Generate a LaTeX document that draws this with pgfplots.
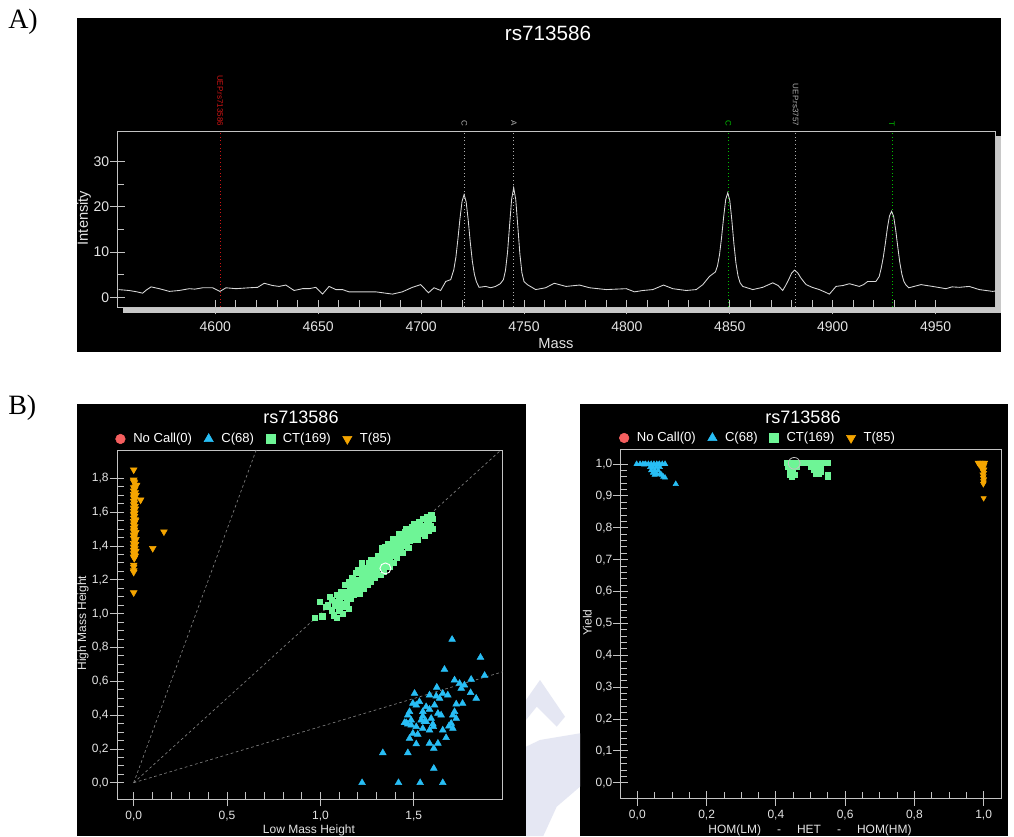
\documentclass[border=0pt]{standalone}
\usepackage{pgfplots}
\pgfplotsset{compat=1.18}
\usepackage{fontspec}
\setmainfont{Liberation Sans}
\newfontfamily\seriffont{Liberation Serif}
\definecolor{cblue}{RGB}{40,190,245}
\definecolor{cgreen}{RGB}{110,245,150}
\definecolor{corange}{RGB}{245,165,0}
\definecolor{cred}{RGB}{245,95,95}
\definecolor{axgray}{RGB}{195,195,195}
\definecolor{lbl}{RGB}{228,228,228}
\definecolor{shadowgray}{RGB}{200,200,200}
\definecolor{wm}{RGB}{229,231,243}
\definecolor{specline}{RGB}{215,215,215}
\definecolor{mkred}{RGB}{210,20,20}
\definecolor{mkgray}{RGB}{175,175,175}
\definecolor{mkgreen}{RGB}{0,190,0}

\pgfplotsset{
  darkaxis/.style={
    scale only axis,
    tick pos=left,
    axis line style={axgray, line width=0.6pt},
    tick style={axgray, line width=0.6pt},
    tick align=center,
    major tick length=11pt,
    minor tick length=5pt,
    minor x tick style={yshift=2.5pt},
    minor y tick style={xshift=2.5pt},
    yticklabel style={xshift=2.7pt},
    /pgf/number format/assume math mode=true,
  },
  bstyle/.style={
    darkaxis,
    ticklabel style={font=\fontsize{9}{11}\selectfont, lbl},
    /pgf/number format/.cd, use comma, fixed, fixed zerofill, precision=1, /pgfplots/.cd,
    legend style={at={(0,1)}, anchor=west, xshift=-1pt, yshift=8.25pt,
      draw=none, fill=none, text=white, font=\fontsize{9.8}{12}\selectfont,
      inner sep=0pt, outer sep=0pt,
      /tikz/every odd column/.append style={column sep=4pt},
      /tikz/every even column/.append style={column sep=7pt}},
    legend columns=4,
    legend image code/.code={\draw[mark repeat=1,##1] plot coordinates {(0pt,0pt)};},
  },
}

\begin{document}
\begin{tikzpicture}[x=0.75pt,y=0.75pt]
\useasboundingbox (0,0) rectangle (1014,836);
\clip (0,0) rectangle (1014,836);
\fill[white] (0,0) rectangle (1014,836);
% backgrounds
\fill[black] (76.5,818) rectangle (1000.5,484);
\fill[black] (76.7,431.7) rectangle (526,0);
\fill[black] (580,431.7) rectangle (1008,0);
% watermark fragments in the gap
\fill[wm] (526,136) -- (540,156) -- (565,119.3) -- (556.7,109.3) -- (536.7,129.3) -- (526,116) -- cycle;
\fill[wm] (526,89.3) -- (540,96) -- (580,102.7) -- (580,49.3) -- (556.7,29.3) -- (543.3,0) -- (526,0) -- cycle;
% panel A shadow
\fill[shadowgray] (123,529) rectangle (1000.7,523);
\fill[shadowgray] (996,700) rectangle (1000.7,523);

% panel labels
\node[anchor=base west, inner sep=0pt, font=\seriffont\fontsize{21}{24}\selectfont] at (8,807.7) {A)};
\node[anchor=base west, inner sep=0pt, font=\seriffont\fontsize{21}{24}\selectfont] at (8,421) {B)};

% ================= Panel A =================
\begin{axis}[darkaxis,
  at={(88.28pt,396.75pt)}, anchor=south west,
  width=658.5pt, height=131.78pt,
  xmin=4552.6, xmax=4979.2, ymin=-2.15, ymax=36.7,
  xtick={4600,4650,4700,4750,4800,4850,4900,4950}, minor x tick num=4,
  ytick={0,10,20,30}, minor y tick num=1,
  ticklabel style={font=\fontsize{10.5}{13}\selectfont, lbl},
  xticklabel style={yshift=-2pt},
  /pgf/number format/set thousands separator={},
  clip=false,
]
\addplot[mkred, dotted, line width=0.7pt] coordinates {(4602.4,-2.15)(4602.4,36.7)};
\addplot[mkgray, dotted, line width=0.7pt] coordinates {(4721,-2.15)(4721,36.7)};
\addplot[mkgray, dotted, line width=0.7pt] coordinates {(4745.1,-2.15)(4745.1,36.7)};
\addplot[mkgreen, dotted, line width=0.7pt] coordinates {(4849.3,-2.15)(4849.3,36.7)};
\addplot[mkgray, dotted, line width=0.7pt] coordinates {(4882,-2.15)(4882,36.7)};
\addplot[mkgreen, dotted, line width=0.7pt] coordinates {(4928.8,-2.15)(4928.8,36.7)};
\addplot[specline, line width=0.65pt] coordinates {
(4553,1.7)(4558,1.5)(4562,1.2)(4564.7,0.9)(4566.5,1.6)(4568.8,2.3)(4572.8,1.9)(4577.7,1.3)
(4582.5,1.5)(4587.4,1.9)(4590,1.8)(4593.9,2.1)(4598.7,2.1)(4602.3,1.3)(4605.2,2.1)(4610,1.9)
(4616.5,2.1)(4620.6,2.2)(4623.8,3.1)(4627.8,2.6)(4631,2.4)(4634.3,2.7)(4638.3,1.5)(4642.4,1.9)
(4645.6,1.9)(4648.9,2.2)(4652.1,0.7)(4655.3,2.4)(4658.6,1.7)(4661.8,1.7)(4665,1.2)(4671.5,1.2)
(4678,1.2)(4686.1,0.7)(4690.9,1.2)(4695.8,2.2)(4699.8,2.8)(4703.6,1.0)(4706.3,2.1)(4709.5,1.5)
(4712,3.5)(4714.4,3.9)(4715.9,6.1)(4716.9,8.8)(4717.9,12.9)(4718.9,17.4)(4719.9,21.2)(4720.9,22.7)
(4721.9,21.1)(4722.9,17.1)(4723.9,12.2)(4724.9,8.0)(4725.9,5.1)(4726.9,3.4)(4728.2,2.2)(4731.4,2.4)
(4733.8,2.1)(4736.2,2.4)(4738.5,3.0)(4740,3.9)(4741,5.9)(4742,9.9)(4743,15.9)(4744,21.7)
(4745,24.2)(4746,21.6)(4747,15.7)(4748,9.6)(4749,5.4)(4750,3.5)(4751.6,2.8)(4755.7,1.7)
(4760.5,2.1)(4764.7,3.1)(4770.4,2.4)(4777,2.7)(4781.9,2.1)(4790,1.7)(4799.7,1.9)(4803.7,1.2)
(4807.8,1.5)(4812.6,1.7)(4817.8,2.7)(4822.3,1.9)(4828.8,1.5)(4833.7,1.7)(4836.9,2.8)(4840.1,4.6)
(4843,5.6)(4844,6.9)(4845,9.4)(4846,13.2)(4847,17.7)(4848,21.6)(4849,23.1)(4850,21.4)
(4851,17.0)(4852,11.8)(4853,7.5)(4854,4.7)(4855,3.2)(4856.3,2.4)(4861.2,1.7)(4866,2.2)
(4870.9,3.2)(4873.5,2.6)(4875.7,1.5)(4877,2.5)(4878.5,3.8)(4880,5.3)(4881.4,6.0)(4883,5.4)
(4884.5,4.3)(4886,3.4)(4887.1,2.8)(4890,2.2)(4893.5,1.7)(4896,1.2)(4898.4,0.7)(4901.6,2.4)
(4905,2.6)(4908.1,3.0)(4912.9,2.4)(4915,2.8)(4917,3.5)(4921,3.5)(4922.6,4.6)(4923.6,6.5)
(4924.6,8.9)(4925.6,12.0)(4926.6,15.4)(4927.6,18.0)(4928.6,19.0)(4929.6,17.9)(4930.6,14.9)(4931.6,11.2)
(4932.6,7.7)(4933.6,5.1)(4934.6,3.5)(4935.6,2.7)(4937,2.1)(4942.9,2.8)(4948.5,2.4)(4955,1.9)
(4958,2.3)(4961.5,2.2)(4966.3,2.4)(4971.2,1.7)(4977.7,1.3)(4979.2,1.4)
};
\node[rotate=-90, anchor=east, inner sep=0pt, text=mkred, font=\fontsize{6}{7}\selectfont] at (axis cs:4602.4,37.8) {UEP.rs713586};
\node[rotate=-90, anchor=east, inner sep=0pt, text=mkgray, font=\fontsize{6}{7}\selectfont] at (axis cs:4721,37.8) {C};
\node[rotate=-90, anchor=east, inner sep=0pt, text=mkgray, font=\fontsize{6}{7}\selectfont] at (axis cs:4745.1,37.8) {A};
\node[rotate=-90, anchor=east, inner sep=0pt, text=mkgreen, font=\fontsize{6}{7}\selectfont] at (axis cs:4849.3,37.8) {C};
\node[rotate=-90, anchor=east, inner sep=0pt, text=mkgray, font=\fontsize{6}{7}\selectfont] at (axis cs:4882,37.8) {UEP.rs3757};
\node[rotate=-90, anchor=east, inner sep=0pt, text=mkgreen, font=\fontsize{6}{7}\selectfont] at (axis cs:4928.8,37.8) {T};
\end{axis}

% ================= Panel B left =================
\begin{axis}[bstyle,
  at={(87.75pt,27.75pt)}, anchor=south west,
  width=289.28pt, height=261.75pt,
  xmin=-0.0894, xmax=1.976, ymin=-0.096, ymax=1.967,
  xtick={0,0.5,1,1.5}, minor x tick num=4,
  ytick={0,0.2,0.4,0.6,0.8,1,1.2,1.4,1.6,1.8}, minor y tick num=3,
]
\addlegendimage{only marks, mark=*, color=cred, mark size=3.6pt}
\addlegendentry{No Call(0)}
\addlegendimage{only marks, mark=triangle*, color=cblue, mark size=4pt}
\addlegendentry{C(68)}
\addlegendimage{only marks, mark=square*, color=cgreen, mark size=3.3pt}
\addlegendentry{CT(169)}
\addlegendimage{only marks, mark=triangle*, color=corange, mark size=4pt, mark options={rotate=180}}
\addlegendentry{T(85)}
\addplot[forget plot, gray, dash pattern=on 2pt off 2pt, line width=0.5pt] coordinates {(0,0)(0.656,1.967)};
\addplot[forget plot, gray, dash pattern=on 2pt off 2pt, line width=0.5pt] coordinates {(0,0)(1.967,1.967)};
\addplot[forget plot, gray, dash pattern=on 2pt off 2pt, line width=0.5pt] coordinates {(0,0)(1.976,0.656)};
% C
\addplot[forget plot, only marks, mark=triangle*, color=cblue, mark size=2.9pt] coordinates {
(1.705,0.847)(1.857,0.741)(1.879,0.634)(1.664,0.670)(1.718,0.607)(1.807,0.611)(1.771,0.577)(1.754,0.558)
(1.623,0.564)(1.584,0.518)(1.655,0.528)(1.504,0.528)(1.804,0.532)(1.834,0.499)(1.727,0.465)(1.761,0.469)
(1.638,0.499)(1.611,0.459)(1.495,0.469)(1.513,0.459)(1.477,0.420)(1.584,0.434)(1.629,0.410)(1.548,0.394)
(1.709,0.400)(1.718,0.420)(1.468,0.400)(1.486,0.370)(1.459,0.355)(1.539,0.370)(1.566,0.361)(1.593,0.380)
(1.646,0.400)(1.700,0.351)(1.688,0.335)(1.655,0.311)(1.584,0.311)(1.548,0.321)(1.513,0.331)(1.486,0.341)
(1.450,0.355)(1.468,0.347)(1.521,0.286)(1.495,0.292)(1.477,0.262)(1.673,0.266)(1.513,0.229)(1.584,0.233)
(1.629,0.233)(1.607,0.203)(1.468,0.177)(1.334,0.177)(1.607,0.085)(1.223,0.0)(1.418,0.0)(1.534,0.0)
(1.655,0.0)(1.557,0.361)(1.602,0.347)(1.620,0.512)(1.682,0.518)(1.566,0.449)(1.530,0.479)(1.548,0.420)
(1.605,0.331)(1.727,0.380)(1.709,0.321)(1.745,0.587)
};
% CT
\addplot[forget plot, only marks, mark=square*, color=cgreen, mark size=2pt] coordinates {
(0.968,0.977)(1.009,0.985)(0.995,1.068)(1.07,0.99)(1.088,0.977)(1.04,1.05)(1.06,1.08)(1.08,1.05)
(1.10,1.09)(1.09,1.11)(1.05,1.10)(1.12,1.04)(1.13,1.10)(1.11,1.13)(1.14,1.07)(1.15,1.12)
(1.16,1.15)(1.13,1.17)(1.17,1.13)(1.18,1.16)(1.15,1.19)(1.19,1.20)(1.20,1.17)(1.17,1.21)
(1.21,1.19)(1.22,1.22)(1.19,1.24)(1.23,1.18)(1.24,1.21)(1.22,1.25)(1.25,1.23)(1.26,1.20)
(1.24,1.27)(1.27,1.25)(1.28,1.22)(1.26,1.28)(1.29,1.27)(1.28,1.30)(1.30,1.25)(1.31,1.29)
(1.27,1.32)(1.30,1.32)(1.32,1.27)(1.33,1.31)(1.31,1.34)(1.34,1.29)(1.343,1.395)(1.35,1.33)
(1.33,1.36)(1.36,1.30)(1.36,1.35)(1.37,1.32)(1.35,1.37)(1.38,1.36)(1.37,1.39)(1.39,1.34)
(1.40,1.38)(1.38,1.41)(1.41,1.36)(1.41,1.41)(1.42,1.39)(1.40,1.43)(1.43,1.37)(1.43,1.42)
(1.44,1.40)(1.42,1.45)(1.45,1.43)(1.44,1.46)(1.46,1.41)(1.47,1.45)(1.45,1.48)(1.48,1.43)
(1.48,1.48)(1.49,1.46)(1.47,1.50)(1.50,1.44)(1.50,1.49)(1.51,1.47)(1.49,1.51)(1.52,1.50)
(1.53,1.48)(1.51,1.53)(1.54,1.51)(1.53,1.54)(1.55,1.47)(1.55,1.52)(1.56,1.50)(1.548,1.559)
(1.566,1.513)(1.57,1.54)(1.58,1.49)(1.58,1.55)(1.593,1.582)(1.59,1.52)(1.60,1.50)(1.60,1.56)
(1.20,1.14)(1.21,1.12)(1.23,1.15)(1.18,1.11)(1.16,1.09)(1.14,1.05)(1.15,1.03)(1.12,1.00)
(1.10,1.02)(1.25,1.17)(1.27,1.19)(1.29,1.21)(1.32,1.23)(1.34,1.25)(1.37,1.28)(1.39,1.30)
(1.26,1.30)(1.22,1.28)(1.20,1.26)(1.33,1.39)(1.36,1.41)(1.39,1.44)(1.42,1.47)(1.46,1.50)
(1.50,1.53)(1.44,1.36)(1.47,1.39)(1.52,1.44)(1.56,1.46)(1.17,1.18)(1.19,1.17)(1.23,1.23)
(1.25,1.26)(1.28,1.27)(1.30,1.29)(1.32,1.32)(1.34,1.34)(1.36,1.38)(1.38,1.38)(1.40,1.40)
(1.42,1.43)(1.45,1.45)(1.48,1.46)(1.50,1.47)(1.53,1.51)(1.09,1.07)(1.11,1.06)(1.13,1.13)
(1.06,1.02)(1.03,1.04)(1.22,1.30)(1.41,1.33)(1.57,1.57)(1.59,1.58)
};
% T
\addplot[forget plot, only marks, mark=triangle*, color=corange, mark size=2.9pt, mark options={rotate=180}] coordinates {
(0,1.85)(0,1.78)(0.004,1.775)(0.016,1.76)(0.008,1.75)(0,1.745)(0.005,1.735)(0,1.725)
(0.008,1.715)(0,1.705)(0.004,1.695)(0,1.685)(0.037,1.672)(0.006,1.675)(0,1.665)(0.004,1.655)
(0,1.645)(0.007,1.635)(0,1.625)(0.003,1.615)(0,1.605)(0.006,1.595)(0,1.585)(0.004,1.575)
(0,1.565)(0.007,1.555)(0,1.545)(0.003,1.535)(0,1.525)(0.006,1.515)(0,1.505)(0.004,1.495)
(0,1.485)(0.007,1.475)(0,1.465)(0.003,1.455)(0,1.445)(0.012,1.439)(0.006,1.425)(0,1.415)
(0.004,1.405)(0,1.395)(0.007,1.385)(0,1.375)(0.003,1.365)(0,1.355)(0.005,1.345)(0,1.335)
(0.003,1.327)(0.102,1.386)(0.162,1.484)(0,1.287)(0,1.275)(0,1.254)(0,1.245)(0,1.124)
(0.01,1.76)(0.012,1.70)(0.009,1.62)(0.01,1.55)(0.011,1.48)(0.01,1.41)(0.012,1.37)(0.008,1.34)
(0,1.79)(0.002,1.69)(0.002,1.59)(0.002,1.49)(0.002,1.39)
};
\addplot[forget plot, only marks, mark=o, color=white, mark size=4.1pt, line width=0.7pt] coordinates {(1.348,1.267)};
\end{axis}

% ================= Panel B right =================
\begin{axis}[bstyle,
  at={(465.53pt,28.28pt)}, anchor=south west,
  width=285.45pt, height=261.98pt,
  xmin=-0.048, xmax=1.051, ymin=-0.049, ymax=1.047,
  xtick={0,0.2,0.4,0.6,0.8,1}, minor x tick num=3,
  ytick={0,0.1,0.2,0.3,0.4,0.5,0.6,0.7,0.8,0.9,1}, minor y tick num=4,
]
\addlegendimage{only marks, mark=*, color=cred, mark size=3.6pt}
\addlegendentry{No Call(0)}
\addlegendimage{only marks, mark=triangle*, color=cblue, mark size=4pt}
\addlegendentry{C(68)}
\addlegendimage{only marks, mark=square*, color=cgreen, mark size=3.3pt}
\addlegendentry{CT(169)}
\addlegendimage{only marks, mark=triangle*, color=corange, mark size=4pt, mark options={rotate=180}}
\addlegendentry{T(85)}
\addplot[forget plot, only marks, mark=triangle*, color=cblue, mark size=2.3pt] coordinates {
(-0.002,1.0)(0.008,1.0)(0.016,1.0)(0.024,1.0)(0.032,1.0)(0.040,1.0)(0.048,1.0)(0.056,1.0)
(0.064,1.0)(0.072,1.0)(0.080,1.0)(0.02,0.998)(0.06,0.998)(0.037,0.99)(0.045,0.99)(0.055,0.99)
(0.065,0.99)(0.04,0.98)(0.05,0.98)(0.06,0.98)(0.045,0.972)(0.055,0.97)(0.065,0.968)(0.05,0.966)
(0.07,0.966)(0.075,0.96)(0.08,0.957)(0.111,0.937)
};
\addplot[forget plot, only marks, mark=square*, color=cgreen, mark size=1.8pt] coordinates {
(0.43,1.003)(0.44,1.003)(0.45,1.003)(0.46,1.003)(0.47,1.003)(0.48,1.003)(0.49,1.003)(0.50,1.003)
(0.51,1.003)(0.52,1.003)(0.53,1.003)(0.54,1.003)(0.55,1.003)(0.435,0.99)(0.445,0.99)(0.455,0.99)
(0.462,0.99)(0.50,0.99)(0.51,0.99)(0.52,0.99)(0.53,0.99)(0.44,0.98)(0.45,0.98)(0.51,0.98)
(0.52,0.978)(0.53,0.976)(0.44,0.966)(0.455,0.966)(0.445,0.96)(0.515,0.97)(0.525,0.97)(0.55,0.966)
(0.55,0.96)
};
\addplot[forget plot, only marks, mark=triangle*, color=corange, mark size=2.3pt, mark options={rotate=180}] coordinates {
(0.983,1.004)(0.99,1.004)(0.997,1.004)(1.004,1.004)(0.987,0.998)(0.995,0.997)(1.002,0.997)(0.992,0.99)
(1.0,0.99)(0.996,0.984)(1.002,0.983)(0.998,0.977)(1.001,0.972)(0.997,0.967)(1.0,0.962)(0.998,0.957)
(1.001,0.952)(0.999,0.947)(1.0,0.942)(0.999,0.937)(1.0,0.893)
};
\addplot[forget plot, only marks, mark=o, color=axgray, mark size=4.4pt, line width=0.6pt] coordinates {(0.453,1.002)};
\end{axis}

% titles and axis labels
\node[text=white, font=\fontsize{15.5}{18}\selectfont] at (548,803) {rs713586};
\node[text=lbl, font=\fontsize{11}{13}\selectfont, rotate=90] at (84,618) {Intensity};
\node[text=lbl, font=\fontsize{11}{13}\selectfont] at (556,492) {Mass};

\node[text=white, font=\fontsize{13.5}{16}\selectfont] at (301,419) {rs713586};
\node[text=lbl, font=\fontsize{9}{11}\selectfont, rotate=90] at (83,213) {High Mass Height};
\node[text=lbl, font=\fontsize{9}{11}\selectfont] at (309,6) {Low Mass Height};

\node[text=white, font=\fontsize{13.5}{16}\selectfont] at (803,419) {rs713586};
\node[text=lbl, font=\fontsize{9}{11}\selectfont, rotate=90] at (587.3,213.3) {Yield};
\node[text=lbl, font=\fontsize{9}{11}\selectfont] at (810,6) {HOM(LM)\hspace{12pt}-\hspace{12pt}HET\hspace{12pt}-\hspace{12pt}HOM(HM)};
\end{tikzpicture}
\end{document}
